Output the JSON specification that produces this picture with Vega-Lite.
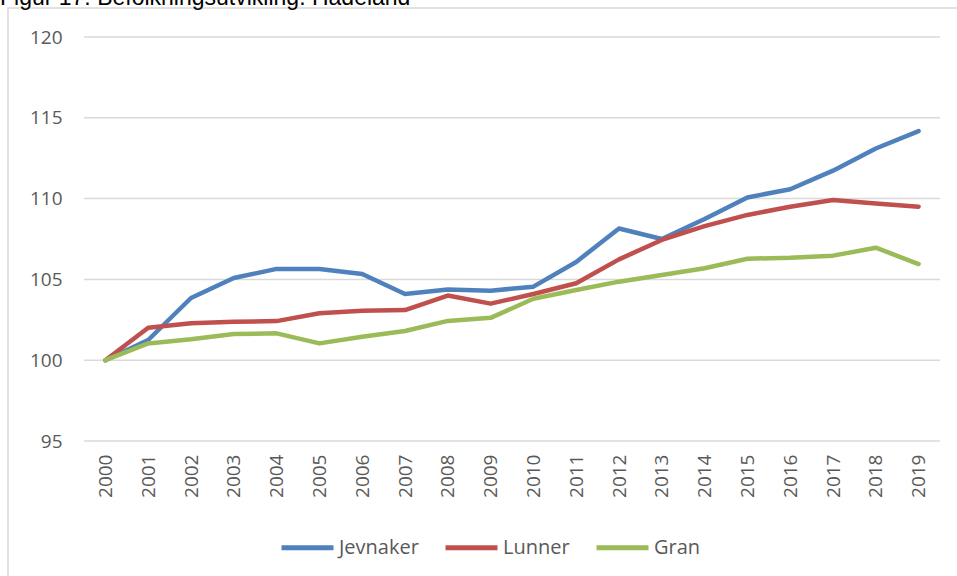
{
  "$schema": "https://vega.github.io/schema/vega-lite/v6.json",
  "width": 953,
  "height": 572,
  "autosize": {"type": "none"},
  "padding": {"left": 8, "top": 8, "right": -4, "bottom": -4},
  "background": "white",
  "title": {"text": "Figur 17: Befolkningsutvikling. Hadeland", "anchor": "start", "frame": "group", "font": "Liberation Sans", "fontSize": 23, "fontWeight": "normal", "color": "#000000", "baseline": "alphabetic", "offset": -20, "dx": -8},
  "config": {
    "view": {"stroke": "#D9D9D9", "strokeWidth": 1.5},
    "axisX": {"format": "d", "labelAngle": -90, "domain": false, "ticks": false, "grid": false, "offset": -139, "labelPadding": 13, "labelFlush": false, "labelOverlap": false, "labelBound": false, "labelFont": "Open Sans", "labelFontSize": 19, "labelColor": "#595959"},
    "axisY": {"domain": false, "ticks": false, "grid": false, "offset": -54, "labelPadding": 0, "labelOverlap": false, "labelFont": "Open Sans", "labelFontSize": 19, "labelColor": "#595959"},
    "legend": {"orient": "none", "legendX": 271, "legendY": 511, "direction": "horizontal", "symbolType": "stroke", "symbolSize": 2704, "symbolStrokeWidth": 5, "labelFont": "Open Sans", "labelFontSize": 20, "labelColor": "#595959", "labelOffset": 3, "columnPadding": 16, "padding": 0}
  },
  "layer": [
    {
      "data": {"values": [{"g": 95}, {"g": 100}, {"g": 105}, {"g": 110}, {"g": 115}, {"g": 120}]},
      "mark": {"type": "rule", "color": "#D9D9D9", "strokeWidth": 1.5},
      "encoding": {
        "x": {"datum": 1999.5, "type": "quantitative"},
        "x2": {"datum": 2019.5},
        "y": {"field": "g", "type": "quantitative", "title": null}
      }
    },
    {
      "data": {"values": [
        {"year": 2000, "kommune": "Jevnaker", "value": 100},
        {"year": 2001, "kommune": "Jevnaker", "value": 101.25},
        {"year": 2002, "kommune": "Jevnaker", "value": 103.85},
        {"year": 2003, "kommune": "Jevnaker", "value": 105.09},
        {"year": 2004, "kommune": "Jevnaker", "value": 105.65},
        {"year": 2005, "kommune": "Jevnaker", "value": 105.65},
        {"year": 2006, "kommune": "Jevnaker", "value": 105.33},
        {"year": 2007, "kommune": "Jevnaker", "value": 104.1},
        {"year": 2008, "kommune": "Jevnaker", "value": 104.38},
        {"year": 2009, "kommune": "Jevnaker", "value": 104.3},
        {"year": 2010, "kommune": "Jevnaker", "value": 104.55},
        {"year": 2011, "kommune": "Jevnaker", "value": 106.08},
        {"year": 2012, "kommune": "Jevnaker", "value": 108.15},
        {"year": 2013, "kommune": "Jevnaker", "value": 107.5},
        {"year": 2014, "kommune": "Jevnaker", "value": 108.74},
        {"year": 2015, "kommune": "Jevnaker", "value": 110.07},
        {"year": 2016, "kommune": "Jevnaker", "value": 110.58},
        {"year": 2017, "kommune": "Jevnaker", "value": 111.73},
        {"year": 2018, "kommune": "Jevnaker", "value": 113.1},
        {"year": 2019, "kommune": "Jevnaker", "value": 114.18},
        {"year": 2000, "kommune": "Lunner", "value": 100},
        {"year": 2001, "kommune": "Lunner", "value": 102.01},
        {"year": 2002, "kommune": "Lunner", "value": 102.28},
        {"year": 2003, "kommune": "Lunner", "value": 102.38},
        {"year": 2004, "kommune": "Lunner", "value": 102.42},
        {"year": 2005, "kommune": "Lunner", "value": 102.9},
        {"year": 2006, "kommune": "Lunner", "value": 103.06},
        {"year": 2007, "kommune": "Lunner", "value": 103.1},
        {"year": 2008, "kommune": "Lunner", "value": 104.0},
        {"year": 2009, "kommune": "Lunner", "value": 103.5},
        {"year": 2010, "kommune": "Lunner", "value": 104.1},
        {"year": 2011, "kommune": "Lunner", "value": 104.76},
        {"year": 2012, "kommune": "Lunner", "value": 106.24},
        {"year": 2013, "kommune": "Lunner", "value": 107.44},
        {"year": 2014, "kommune": "Lunner", "value": 108.3},
        {"year": 2015, "kommune": "Lunner", "value": 108.99},
        {"year": 2016, "kommune": "Lunner", "value": 109.5},
        {"year": 2017, "kommune": "Lunner", "value": 109.91},
        {"year": 2018, "kommune": "Lunner", "value": 109.7},
        {"year": 2019, "kommune": "Lunner", "value": 109.5},
        {"year": 2000, "kommune": "Gran", "value": 100},
        {"year": 2001, "kommune": "Gran", "value": 101.04},
        {"year": 2002, "kommune": "Gran", "value": 101.29},
        {"year": 2003, "kommune": "Gran", "value": 101.62},
        {"year": 2004, "kommune": "Gran", "value": 101.66},
        {"year": 2005, "kommune": "Gran", "value": 101.04},
        {"year": 2006, "kommune": "Gran", "value": 101.45},
        {"year": 2007, "kommune": "Gran", "value": 101.81},
        {"year": 2008, "kommune": "Gran", "value": 102.43},
        {"year": 2009, "kommune": "Gran", "value": 102.62},
        {"year": 2010, "kommune": "Gran", "value": 103.8},
        {"year": 2011, "kommune": "Gran", "value": 104.34},
        {"year": 2012, "kommune": "Gran", "value": 104.86},
        {"year": 2013, "kommune": "Gran", "value": 105.27},
        {"year": 2014, "kommune": "Gran", "value": 105.69},
        {"year": 2015, "kommune": "Gran", "value": 106.28},
        {"year": 2016, "kommune": "Gran", "value": 106.34},
        {"year": 2017, "kommune": "Gran", "value": 106.47},
        {"year": 2018, "kommune": "Gran", "value": 106.96},
        {"year": 2019, "kommune": "Gran", "value": 105.95}
      ]},
      "mark": {"type": "line", "strokeWidth": 4.5, "strokeCap": "round", "strokeJoin": "round"},
      "encoding": {
        "x": {"field": "year", "type": "quantitative", "title": null,
              "scale": {"domain": [1999.5, 2019.5], "range": [76, 932], "nice": false, "zero": false},
              "axis": {"values": [2000, 2001, 2002, 2003, 2004, 2005, 2006, 2007, 2008, 2009, 2010, 2011, 2012, 2013, 2014, 2015, 2016, 2017, 2018, 2019]}},
        "y": {"field": "value", "type": "quantitative", "title": null,
              "scale": {"domain": [95, 120], "range": [433, 29], "nice": false, "zero": false},
              "axis": {"values": [95, 100, 105, 110, 115, 120]}},
        "color": {"field": "kommune", "type": "nominal", "sort": ["Jevnaker", "Lunner", "Gran"],
                  "scale": {"domain": ["Jevnaker", "Lunner", "Gran"], "range": ["#4F81BD", "#C0504D", "#9BBB59"]},
                  "legend": {"title": null}}
      }
    }
  ]
}
